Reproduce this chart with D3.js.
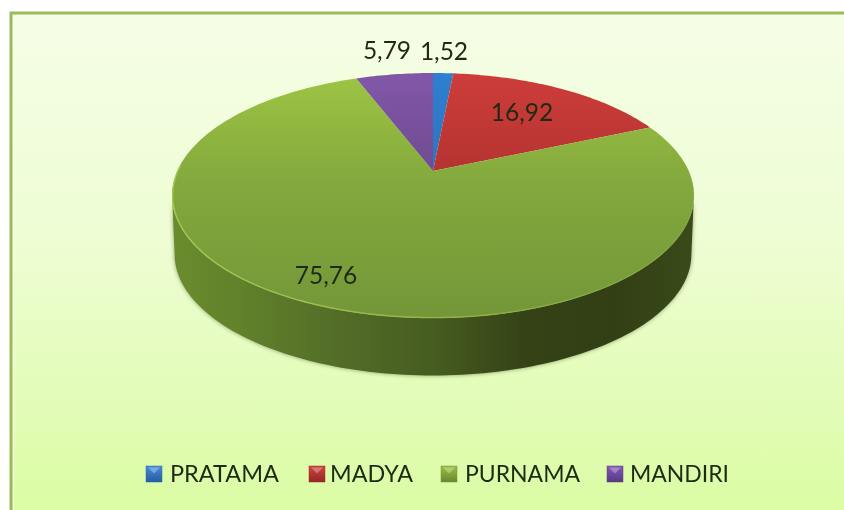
<!DOCTYPE html>
<html><head><meta charset="utf-8">
<script src="https://cdn.jsdelivr.net/npm/d3@7"></script>
<style>html,body{margin:0;padding:0;background:#fff}svg{display:block}text{font-family:Lato,"Open Sans",sans-serif;fill:#1e2a14}</style>
</head><body><svg id="c" width="844" height="510"></svg>
<script>
const categories = ["PRATAMA","MADYA","PURNAMA","MANDIRI"];
const values = [1.52,16.92,75.76,5.79];
const valueLabels = ["1,52","16,92","75,76","5,79"];
const topColors = [["#2f7fd0","#2a6cb0"],["#cd3d3a","#a32c2a"],["#9ec544","#739738"],["#8257a8","#5f4280"]];
const legendColors = [["#4a8ad8","#2458a0"],["#d0443f","#8e2422"],["#9cc045","#64842c"],["#8558b8","#523880"]];

const W=844,H=510;
const svg=d3.select("#c");
const defs=svg.append("defs");
function vgrad(id,stops,y1,y2){
  const g=defs.append("linearGradient").attr("id",id).attr("gradientUnits","userSpaceOnUse")
    .attr("x1",0).attr("x2",0).attr("y1",y1).attr("y2",y2);
  stops.forEach(([o,c])=>g.append("stop").attr("offset",o).attr("stop-color",c));
}
vgrad("bg",[[0,"#f6fee6"],[0.45,"#eefdd4"],[1,"#dbfca4"]],12,510);
topColors.forEach((c,i)=>vgrad("t"+i,[[0,c[0]],[0.45,d3.interpolateRgb(c[0],c[1])(0.62)],[1,c[1]]],73,318));
const wall=defs.append("linearGradient").attr("id","wall").attr("gradientUnits","userSpaceOnUse")
  .attr("x1",172).attr("x2",694).attr("y1",0).attr("y2",0);
[[0,"#6b8c2d"],[0.12,"#62822b"],[0.3,"#546f28"],[0.5,"#465c20"],[0.68,"#344216"],[0.85,"#323f15"],[1,"#3a4a18"]]
  .forEach(([o,c])=>wall.append("stop").attr("offset",o).attr("stop-color",c));
const f=defs.append("filter").attr("id","blur").attr("x","-5%").attr("y","-5%").attr("width","110%").attr("height","115%");
f.append("feGaussianBlur").attr("stdDeviation",2);
const soft=defs.append("filter").attr("id","soft").attr("x","-5%").attr("y","-5%").attr("width","110%").attr("height","110%");
soft.append("feGaussianBlur").attr("stdDeviation",0.45);

// chart area
svg.append("rect").attr("width",W).attr("height",H).attr("fill","#fff");
svg.append("rect").attr("x",11).attr("y",13).attr("width",W).attr("height",H).attr("fill","url(#bg)");
svg.append("path").attr("d",`M13.5,${H}V15.5H${W}`).attr("fill","none").attr("stroke","#fbfff0").attr("stroke-width",1.5).attr("opacity",.8);
svg.append("path").attr("d",`M11,${H}V13H${W}`).attr("fill","none").attr("stroke","#9bbb59").attr("stroke-width",3);

// perspective projection of a unit disc onto the picture plane
const apexX=433,apexY=171,sx=255.7,sy=117.6,k=0.2;
function proj(t,r=1,dy=0,shrink=1){
  const u=Math.sin(t)*r,v=Math.cos(t)*r,w=1+k*v;
  return [apexX+shrink*sx*u/w, apexY+dy-shrink*sy*v/w];
}
const pie=d3.pie().sort(null).startAngle(0).endAngle(2*Math.PI);
const arcs=pie(values);
const line=d3.line();
const samples=(a,b,n)=>d3.range(n+1).map(i=>a+(b-a)*i/n);
const g=svg.append("g");

// walls: visible front part only
const tan=Math.acos(-k);
const depth=59,shr=0.99;
const wallPaths=arcs.map(d=>{
  const a=Math.max(d.startAngle,tan),b=Math.min(d.endAngle,2*Math.PI-tan);
  if(b<=a) return null;
  const ts=samples(a,b,120);
  return line(ts.map(t=>proj(t)).concat(ts.slice().reverse().map(t=>proj(t,1,depth,shr))))+"Z";
}).filter(Boolean);
g.selectAll(".shadow").data(wallPaths).join("path").attr("d",d=>d).attr("fill","#3a4a1a").attr("opacity",.55).attr("filter","url(#blur)");
g.selectAll(".wall").data(wallPaths).join("path").attr("d",d=>d).attr("fill","url(#wall)");

// top faces
g.selectAll(".top").data(arcs).join("path")
  .attr("d",d=>line([[apexX,apexY]].concat(samples(d.startAngle,d.endAngle,Math.max(12,Math.round((d.endAngle-d.startAngle)*60))).map(t=>proj(t))))+"Z")
  .attr("fill",(d,i)=>`url(#t${i})`);
// rim highlight on front edge, fading toward the dark right side
const rim=defs.append("linearGradient").attr("id","rim").attr("gradientUnits","userSpaceOnUse")
  .attr("x1",172).attr("x2",694).attr("y1",0).attr("y2",0);
[[0,"#a6cb55",.9],[0.5,"#9ac04c",.8],[1,"#8aad44",.3]].forEach(([o,c,a])=>rim.append("stop").attr("offset",o).attr("stop-color",c).attr("stop-opacity",a));
g.append("path").attr("d",line(samples(tan-0.25,2*Math.PI-tan+0.25,200).map(t=>proj(t,0.998))))
  .attr("fill","none").attr("stroke","url(#rim)").attr("stroke-width",1.4);

// value labels
const labelPos=[[444,52],[522,113],[326,276],[387,51]];
g.selectAll(".val").data(valueLabels).join("text")
  .attr("x",(d,i)=>labelPos[i][0]).attr("y",(d,i)=>labelPos[i][1]+8)
  .attr("text-anchor","middle").attr("font-size",24.5).attr("filter","url(#soft)").text(d=>d);

// legend
const legendX=[146,309,441,607],legendTextX=[170,330,465,630],legendTextW=[109,83,115,99];
const lg=svg.append("g");
legendColors.forEach((c,i)=>vgrad("l"+i,[[0,c[0]],[1,c[1]]],466,483));
lg.selectAll("rect").data(categories).join("rect")
  .attr("x",(d,i)=>legendX[i]).attr("y",466).attr("width",16).attr("height",16)
  .attr("fill",(d,i)=>`url(#l${i})`).attr("stroke",(d,i)=>topColors[i][1]).attr("stroke-width",.5);
lg.selectAll("path").data(categories).join("path")
  .attr("d",(d,i)=>`M${legendX[i]+2},467.5h12l-6,6Z`).attr("fill","#fff").attr("opacity",.3);
lg.selectAll("text").data(categories).join("text")
  .attr("x",(d,i)=>legendTextX[i]).attr("y",482).attr("font-size",24)
  .attr("textLength",(d,i)=>legendTextW[i]).attr("lengthAdjust","spacingAndGlyphs")
  .attr("filter","url(#soft)").text(d=>d);
</script></body></html>
